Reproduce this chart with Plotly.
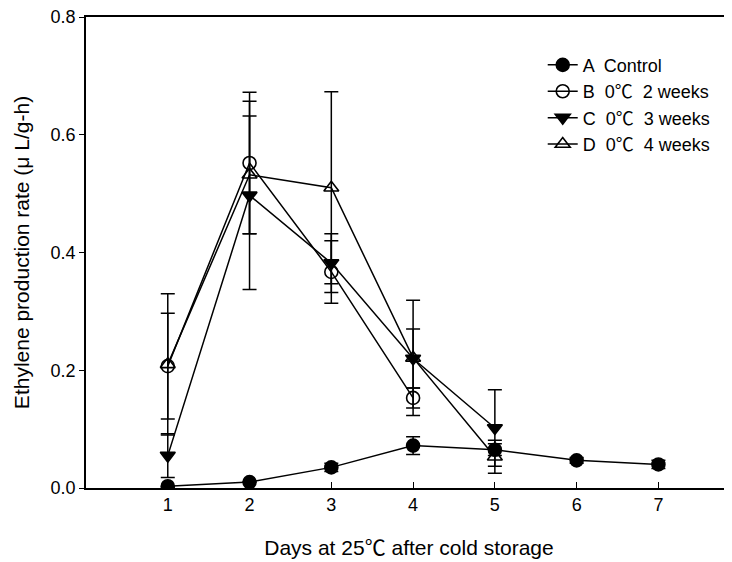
import plotly.graph_objects as go

days_a = [1, 2, 3, 4, 5, 6, 7]
ctrl = [0.003, 0.010, 0.035, 0.072, 0.065, 0.047, 0.040]
ctrl_err = [0.0, 0.0, 0.007, 0.015, 0.010, 0.005, 0.007]

days_b = [1, 2, 3, 4]
wk2 = [0.207, 0.552, 0.367, 0.153]
wk2_err = [0.090, 0.120, 0.053, 0.017]

days_c = [1, 2, 3, 4, 5]
wk3 = [0.055, 0.497, 0.382, 0.220, 0.102]
wk3_err = [0.037, 0.160, 0.050, 0.050, 0.065]

days_d = [1, 2, 3, 4, 5]
wk4 = [0.210, 0.532, 0.510, 0.221, 0.053]
wk4_err = [0.120, 0.100, 0.163, 0.098, 0.028]

DEG = "<span style=\"font-family:'Noto Sans CJK SC'\">\u2103</span>"
names = ["A  Control", "B  0" + DEG + "  2 weeks", "C  0" + DEG + "  3 weeks", "D  0" + DEG + "  4 weeks"]

FONT = "Liberation Sans, Arial, sans-serif"

fig = go.Figure()

series = [
    (days_a, ctrl, ctrl_err, "circle"),
    (days_b, wk2, wk2_err, "circle-open"),
    (days_c, wk3, wk3_err, "triangle-down"),
    (days_d, wk4, wk4_err, "triangle-up-open"),
]

for (x, y, e, sym), nm in zip(series, names):
    fig.add_trace(go.Scatter(
        x=x, y=y, name=nm, mode="lines+markers",
        line=dict(color="black", width=1.5),
        marker=dict(symbol=sym, size=13, color="black",
                    line=dict(color="black", width=1.6)),
        error_y=dict(type="data", array=e, visible=True, color="black",
                     thickness=1.5, width=7),
    ))

fig.update_layout(
    width=724, height=554,
    paper_bgcolor="white", plot_bgcolor="white",
    margin=dict(l=78, r=0, t=9, b=74),
    font=dict(family=FONT, size=18, color="black"),
    showlegend=True,
    legend=dict(x=0.707, y=0.937, xanchor="left", yanchor="top",
                bgcolor="rgba(0,0,0,0)", font=dict(size=18, family=FONT),
                tracegroupgap=0, itemsizing="trace"),
    xaxis=dict(range=[0, 7.9], tickvals=[1, 2, 3, 4, 5, 6, 7],
               tickfont=dict(size=18),
               showgrid=False, zeroline=False, showline=True, linecolor="black",
               linewidth=1.5, mirror=True, ticks="inside", ticklen=6, tickwidth=1.2,
               tickcolor="black",
               title=dict(text="Days at 25" + DEG + " after cold storage", font=dict(size=21, family=FONT),
                          standoff=26)),
    yaxis=dict(range=[0, 0.8], tickvals=[0, 0.2, 0.4, 0.6, 0.8],
               ticktext=["0.0", "0.2", "0.4", "0.6", "0.8"],
               tickfont=dict(size=18), ticklabeloverflow="allow",
               showgrid=False, zeroline=False, showline=True, linecolor="black",
               linewidth=1.5, ticks="outside", ticklen=5, tickwidth=1.2, tickcolor="black",
               title=dict(text="Ethylene production rate (\u03bc L/g-h)", font=dict(size=21, family=FONT),
                          standoff=15)),
)

fig.write_html("out.html")
